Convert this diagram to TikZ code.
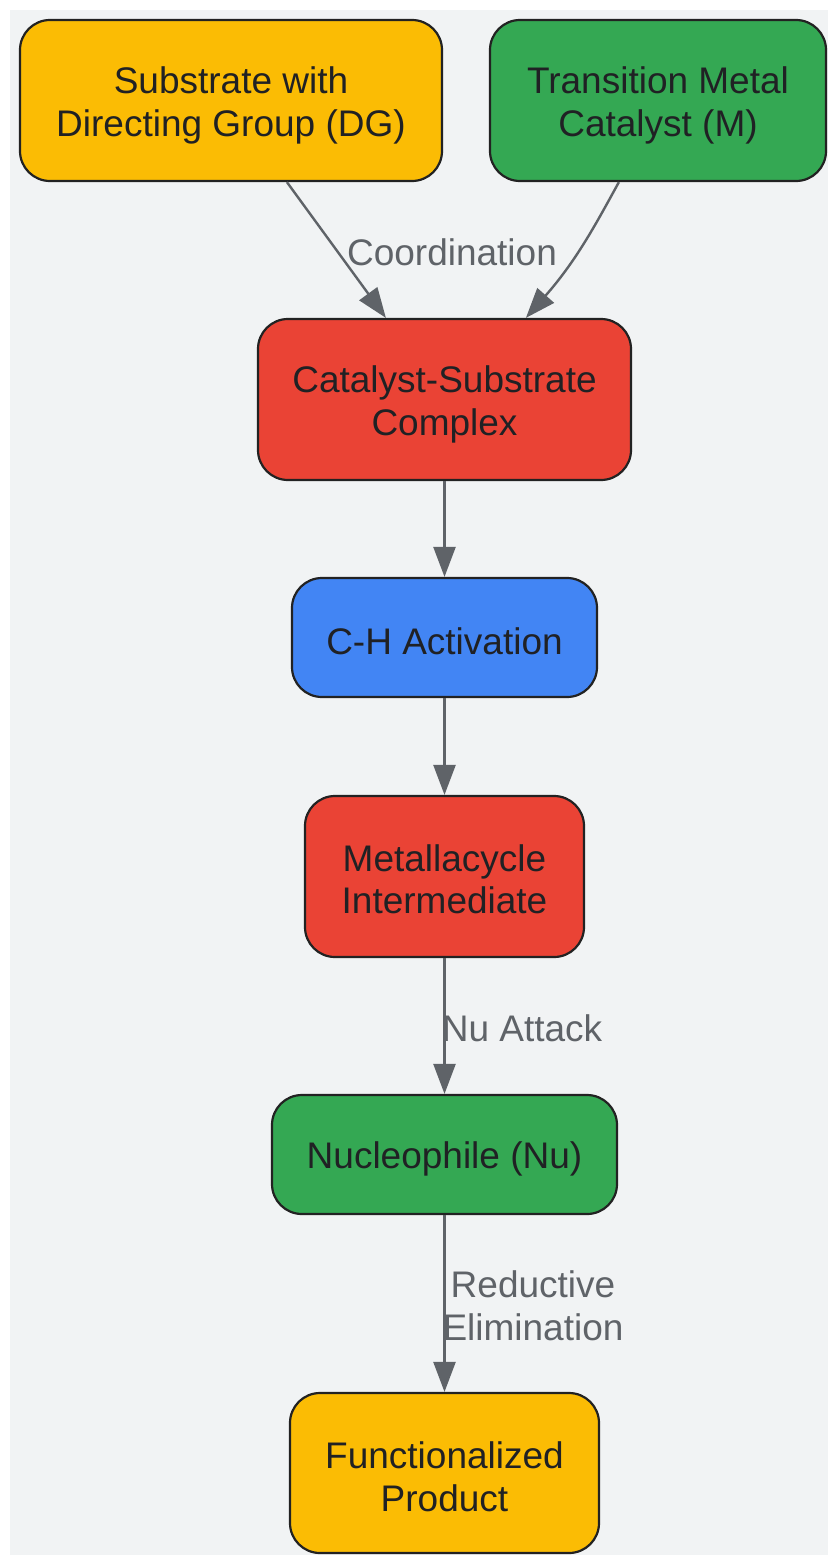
\documentclass[tikz,border=0pt]{standalone}
\usepackage{fontspec}
\setmainfont{Liberation Sans}
\usetikzlibrary{arrows.meta,calc}
\definecolor{bgc}{HTML}{F1F3F4}
\definecolor{yel}{HTML}{FBBC04}
\definecolor{grn}{HTML}{34A853}
\definecolor{red}{HTML}{EA4335}
\definecolor{blu}{HTML}{4285F4}
\definecolor{textc}{HTML}{202124}
\definecolor{edgec}{HTML}{5F6368}
\definecolor{bordc}{HTML}{222222}
\begin{document}
\begin{tikzpicture}[x=1pt,y=-1pt,
  box/.style={draw=bordc,line width=2.2pt,rounded corners=30pt,inner sep=0pt},
  txt/.style={align=center,inner sep=0pt,font=\fontsize{37}{42.5}\selectfont,text=textc},
  edge/.style={draw=edgec,line width=2.4pt,-{Triangle[length=30pt,width=22pt]}},
  lbl/.style={font=\fontsize{37}{42.5}\selectfont,text=edgec,align=center,inner sep=0pt}]
\useasboundingbox (0,0) rectangle (828,1555);
\fill[bgc] (10,10) rectangle (828,1555);
\node[box,fill=yel,minimum width=422pt,minimum height=161pt] (sub) at (231,100.5) {};
\node[txt] (subt) at ($(sub.center)+(0,5)$) {Substrate with\\Directing Group (DG)};
\node[box,fill=grn,minimum width=336pt,minimum height=161pt] (tmc) at (658,100.5) {};
\node[txt] (tmct) at ($(tmc.center)+(0,5)$) {Transition Metal\\Catalyst (M)};
\node[box,fill=red,minimum width=373pt,minimum height=161pt] (cplx) at (444.5,399.5) {};
\node[txt] (cplxt) at ($(cplx.center)+(0,5)$) {Catalyst-Substrate\\Complex};
\node[box,fill=blu,minimum width=305pt,minimum height=119pt] (cha) at (444.5,637.5) {};
\node[txt] (chat) at ($(cha.center)+(0,3.5)$) {C-H Activation};
\node[box,fill=red,minimum width=279pt,minimum height=161pt] (met) at (444.5,876.5) {};
\node[txt] (mett) at ($(met.center)+(0,3)$) {Metallacycle\\Intermediate};
\node[box,fill=grn,minimum width=345pt,minimum height=119pt] (nu) at (444.5,1154.5) {};
\node[txt] (nut) at ($(nu.center)+(0,4.5)$) {Nucleophile (Nu)};
\node[box,fill=yel,minimum width=309pt,minimum height=160pt] (prod) at (444.5,1473) {};
\node[txt] (prodt) at ($(prod.center)+(0,4)$) {Functionalized\\Product};
\draw[edge] ($(sub.south west)+(268,0)$) -- ($(cplx.north west)+(129,0)$);
\draw[edge] ($(tmc.south west)+(130,0)$) .. controls ($(tmc.south west)+(108,40)$) and ($(tmc.south west)+(88,78)$) .. ($(cplx.north west)+(269,0)$);
\node[lbl] (coordlbl) at (452,252) {Coordination};
\draw[edge] (cplx) -- (cha);
\draw[edge] (cha) -- (met);
\draw[edge] (met) -- (nu);
\node[lbl] (nulbl) at (522,1028) {Nu Attack};
\draw[edge] (nu) -- (prod);
\node[lbl] (relbl) at (533,1306) {Reductive\\Elimination};
\end{tikzpicture}
\end{document}
